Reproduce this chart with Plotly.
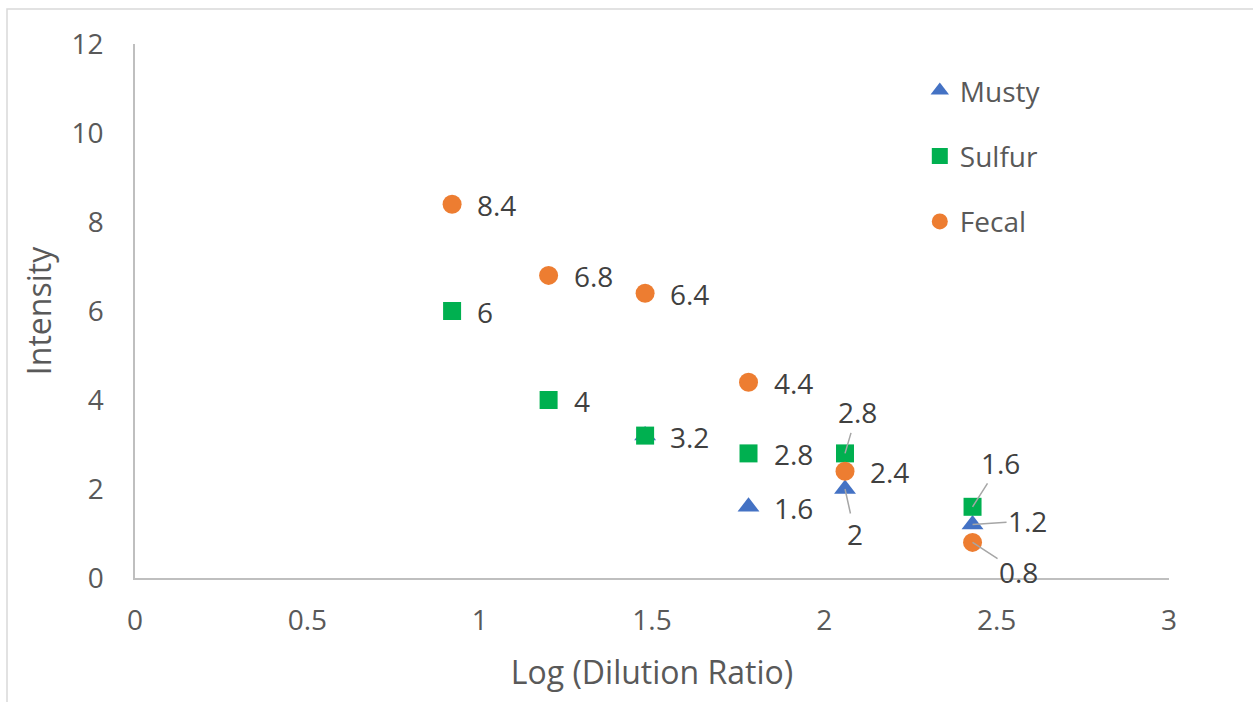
import plotly.graph_objects as go

# Log of the dilution ratio for each sample step
log_dilution = [0.92, 1.2, 1.48, 1.78, 2.06, 2.43]

# Intensity per odour descriptor
musty_x = [1.48, 1.78, 2.06, 2.43]
musty_y = [3.2, 1.6, 2, 1.2]
sulfur_x = log_dilution
sulfur_y = [6, 4, 3.2, 2.8, 2.8, 1.6]
fecal_x = log_dilution
fecal_y = [8.4, 6.8, 6.4, 4.4, 2.4, 0.8]

x_ticks = [0, 0.5, 1, 1.5, 2, 2.5, 3]
y_ticks = [0, 2, 4, 6, 8, 10, 12]

FONT = "Open Sans"
TICK_COLOR = "#595959"
LABEL_COLOR = "#404040"
LEADER_COLOR = "#a6a6a6"

series = [
    dict(name="Musty", x=musty_x, y=musty_y, color="#4472C4", symbol="triangle-up", size=19),
    dict(name="Sulfur", x=sulfur_x, y=sulfur_y, color="#00B050", symbol="square", size=18),
    dict(name="Fecal", x=fecal_x, y=fecal_y, color="#ED7D31", symbol="circle", size=19),
]

# Labels that sit away from their point and are joined to it by a leader line
# (text-centre offset in pixels, keyed by series name and point index)
leader_offsets = {
    ("Sulfur", 4): (12, -41),
    ("Musty", 2): (10, 45),
    ("Sulfur", 5): (28, -44),
    ("Musty", 3): (55, -4),
    ("Fecal", 5): (46, 30),
}
# Labels left out because another series' label already shows the same value there
hidden_labels = {("Musty", 0)}

fig = go.Figure()
annotations = []
for s in series:
    fig.add_trace(go.Scatter(
        x=s["x"], y=s["y"], mode="markers", name=s["name"],
        legendgroup=s["name"],
        marker=dict(symbol=s["symbol"], size=s["size"], color=s["color"],
                    line=dict(width=0)),
        hoverinfo="x+y+name",
    ))
    for i, (xv, yv) in enumerate(zip(s["x"], s["y"])):
        key = (s["name"], i)
        if key in hidden_labels:
            continue
        text = f"{yv:g}"
        if key in leader_offsets:
            ax, ay = leader_offsets[key]
            annotations.append(dict(
                x=xv, y=yv, xref="x", yref="y", text=text,
                showarrow=True, arrowhead=0, arrowwidth=1.5,
                arrowcolor=LEADER_COLOR, ax=ax, ay=ay, standoff=0,
                font=dict(family=FONT, size=28, color=LABEL_COLOR),
            ))
        else:
            annotations.append(dict(
                x=xv, y=yv, xref="x", yref="y", text=text,
                showarrow=False, xanchor="left", yanchor="middle",
                xshift=23, yshift=-1,
                font=dict(family=FONT, size=28, color=LABEL_COLOR),
            ))

fig.update_layout(
    width=1253, height=702,
    margin=dict(l=135, r=84, t=44, b=124),
    paper_bgcolor="white", plot_bgcolor="white",
    font=dict(family=FONT, color=TICK_COLOR),
    showlegend=True,
    legend=dict(
        x=0.759, y=0.959, xanchor="left", yanchor="top",
        traceorder="grouped", tracegroupgap=26,
        font=dict(family=FONT, size=28, color=TICK_COLOR),
        bgcolor="rgba(0,0,0,0)", itemwidth=30,
    ),
    annotations=annotations,
    shapes=[
        # outer chart frame
        dict(type="rect", xref="paper", yref="paper",
             x0=(7 - 135) / 1034, x1=1.3, y0=-0.4, y1=(578 - 9) / 534,
             line=dict(color="#d9d9d9", width=1.5), fillcolor="rgba(0,0,0,0)",
             layer="below"),
    ],
)

fig.update_xaxes(
    range=[0, 3], tickvals=x_ticks, ticktext=[f"{v:g}" for v in x_ticks],
    showgrid=False, zeroline=False, showline=True, linecolor="#bfbfbf", linewidth=1.5,
    ticks="", ticklabelstandoff=17,
    tickfont=dict(family=FONT, size=28, color=TICK_COLOR),
    title=dict(text="Log (Dilution Ratio)", standoff=24,
               font=dict(family=FONT, size=32, color=TICK_COLOR)),
)
fig.update_yaxes(
    range=[0, 12], tickvals=y_ticks, ticktext=[f"{v:g}" for v in y_ticks],
    showgrid=False, zeroline=False, showline=True, linecolor="#bfbfbf", linewidth=1.5,
    ticks="", ticklabelstandoff=24,
    tickfont=dict(family=FONT, size=28, color=TICK_COLOR),
    title=dict(text="Intensity", standoff=10,
               font=dict(family=FONT, size=32, color=TICK_COLOR)),
)

fig.write_html("out.html")
